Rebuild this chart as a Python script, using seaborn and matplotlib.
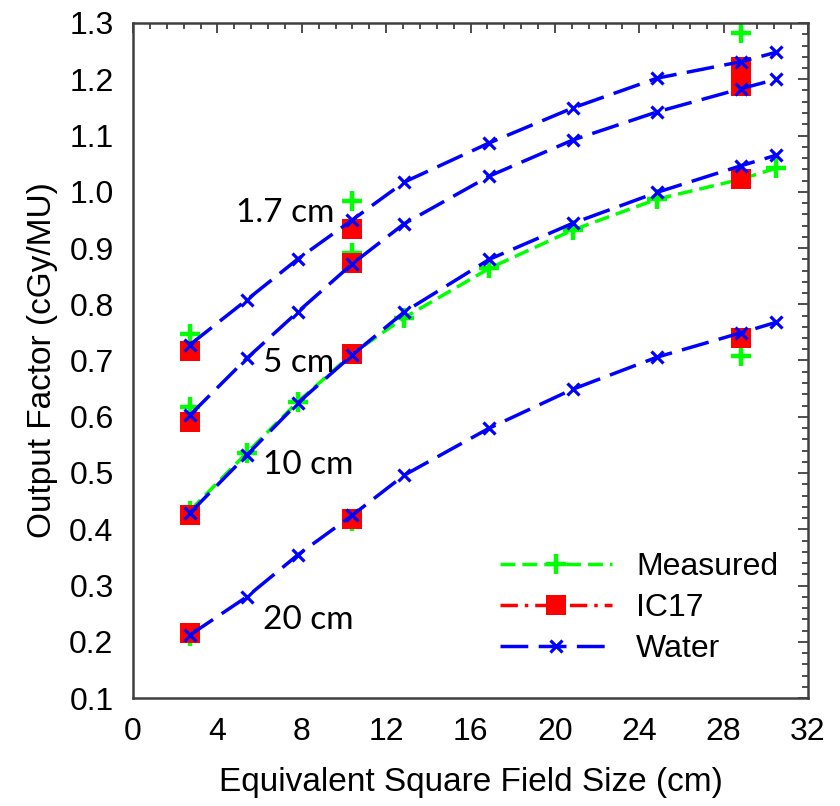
import numpy as np
import pandas as pd
import matplotlib
matplotlib.use("Agg")
import matplotlib.pyplot as plt
from matplotlib.lines import Line2D
from matplotlib.ticker import MultipleLocator, FormatStrFormatter
import seaborn as sns

# Equivalent square field sizes (cm) for the water calculation
field_sizes = [2.7, 5.4, 7.8, 10.4, 12.85, 16.9, 20.85, 24.85, 28.8, 30.5]

# Water output factors at each depth
water_1p7 = [0.728, 0.808, 0.880, 0.950, 1.017, 1.087, 1.149, 1.202, 1.231, 1.248]
water_5 = [0.603, 0.704, 0.786, 0.872, 0.943, 1.028, 1.092, 1.142, 1.183, 1.200]
water_10 = [0.429, 0.532, 0.624, 0.710, 0.786, 0.880, 0.944, 0.999, 1.046, 1.065]
water_20 = [0.212, 0.280, 0.354, 0.425, 0.496, 0.580, 0.649, 0.706, 0.749, 0.768]

# IC17 output factors (three field sizes)
ic17_sizes = [2.7, 10.4, 28.8]
ic17_1p7 = [0.717, 0.934, 1.222]
ic17_5 = [0.591, 0.873, 1.188]
ic17_10 = [0.425, 0.712, 1.023]
ic17_20 = [0.216, 0.418, 0.740]

# Measured output factors
measured_sizes = [2.7, 10.4, 28.8]
measured_1p7 = [0.748, 0.984, 1.282]
measured_5 = [0.618, 0.892, 1.205]
measured_20 = [0.210, 0.415, 0.708]
measured_10 = [0.433, 0.536, 0.626, 0.712, 0.776, 0.864, 0.932, 0.987, 1.022, 1.042]

depth_labels = ["1.7 cm", "5 cm", "10 cm", "20 cm"]
label_x = [4.88, 6.16, 6.16, 6.16]
label_y = [0.962, 0.696, 0.514, 0.239]

sns.set_style("white")
plt.rcParams["font.family"] = ["Liberation Sans", "DejaVu Sans"]
plt.rcParams["text.color"] = "black"
plt.rcParams["axes.labelcolor"] = "black"

GREEN = "#00FF00"
RED = "#FF0000"
BLUE = "#0000FF"

fig = plt.figure(figsize=(8.4, 8.06), dpi=100)
ax = fig.add_axes([133 / 840, 108 / 806, 675 / 840, 675 / 806])

common = dict(estimator=None, sort=False, errorbar=None, legend=False, ax=ax)

# Measured: markers for the sparse depths, dashed curve at 10 cm
for vals in (measured_1p7, measured_5, measured_20):
    df = pd.DataFrame({"size": measured_sizes, "of": vals})
    sns.lineplot(data=df, x="size", y="of", color=GREEN, linestyle="",
                 marker="+", markersize=15, markeredgewidth=3.2,
                 markeredgecolor=GREEN, **common)
df = pd.DataFrame({"size": field_sizes, "of": measured_10})
sns.lineplot(data=df, x="size", y="of", color=GREEN, linewidth=2.5,
             linestyle=(0, (4.3, 2.0)), marker="+", markersize=15,
             markeredgewidth=3.2, markeredgecolor=GREEN, **common)

# IC17: filled squares
for vals in (ic17_1p7, ic17_5, ic17_10, ic17_20):
    df = pd.DataFrame({"size": ic17_sizes, "of": vals})
    sns.lineplot(data=df, x="size", y="of", color=RED, linestyle="",
                 marker="s", markersize=15, markeredgewidth=0,
                 markeredgecolor=RED, **common)

# Water: long-dashed curves with x markers
for vals in (water_1p7, water_5, water_10, water_20):
    df = pd.DataFrame({"size": field_sizes, "of": vals})
    sns.lineplot(data=df, x="size", y="of", color=BLUE, linewidth=2.5,
                 linestyle=(0, (8, 3)), marker="x", markersize=9,
                 markeredgewidth=2.3, markeredgecolor=BLUE, **common)

for txt, lx, ly in zip(depth_labels, label_x, label_y):
    ax.text(lx, ly, txt, fontsize=24, family=["Lato", "DejaVu Sans"],
            ha="left", va="center", color="black")

ax.set_xlim(0, 32)
ax.set_ylim(0.1, 1.3)
ax.xaxis.set_major_locator(MultipleLocator(4))
ax.xaxis.set_minor_locator(MultipleLocator(0.8))
ax.yaxis.set_major_locator(MultipleLocator(0.1))
ax.yaxis.set_minor_locator(MultipleLocator(0.02))
ax.yaxis.set_major_formatter(FormatStrFormatter("%.1f"))

ax.tick_params(which="both", direction="in", top=True, right=True,
               color="#404040", width=1.3, labelcolor="black")
ax.tick_params(which="major", length=7, labelsize=23)
ax.tick_params(which="minor", length=4)
ax.tick_params(axis="x", which="major", pad=14)
ax.tick_params(axis="y", which="major", pad=14)
for sp in ax.spines.values():
    sp.set_color("#404040")
    sp.set_linewidth(1.8)

ax.set_xlabel("Equivalent Square Field Size (cm)", fontsize=24, labelpad=14)
ax.set_ylabel("Output Factor (cGy/MU)", fontsize=24, labelpad=8)

handles = [
    Line2D([], [], color=GREEN, linewidth=2.5, linestyle=(0, (4.3, 2.0)),
           marker="+", markersize=15, markeredgewidth=3.2),
    Line2D([], [], color=RED, linewidth=2.5, linestyle=(0, (5, 2, 1, 2)),
           marker="s", markersize=15, markeredgewidth=0),
    Line2D([], [], color=BLUE, linewidth=2.5, linestyle=(0, (8, 3)),
           marker="x", markersize=9, markeredgewidth=2.3),
]
ax.legend(handles, ["Measured", "IC17", "Water"], loc="upper left",
          bbox_to_anchor=(0.544, 0.216), frameon=False, fontsize=23,
          handlelength=3.5, handletextpad=0.75, labelspacing=0.34,
          borderpad=0, borderaxespad=0, numpoints=1)

fig.savefig("out.png", dpi=100)
